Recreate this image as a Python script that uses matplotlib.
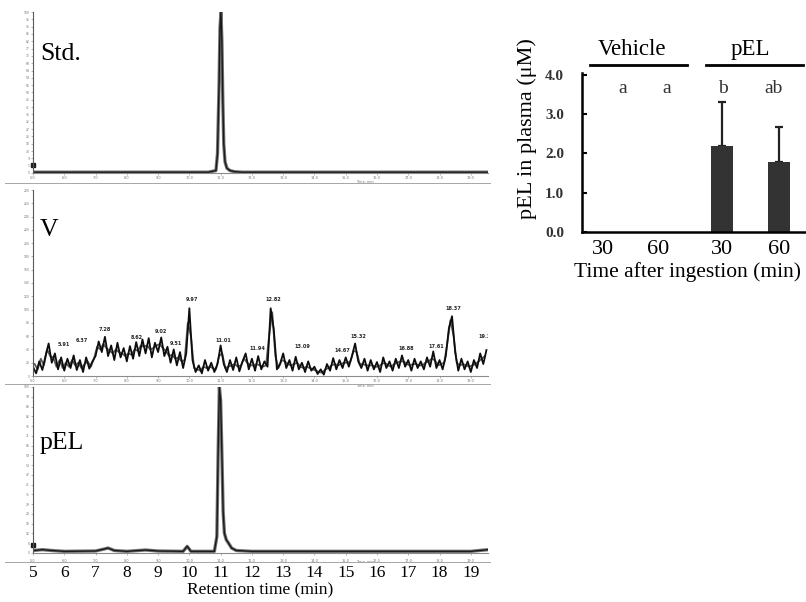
import numpy as np
import matplotlib.pyplot as plt
from matplotlib.lines import Line2D

plt.rcParams['font.family'] = 'Liberation Serif'

# --- chromatograms (retention time in min, relative signal) ---
std_time = [5.0, 10.6, 10.85, 10.9, 10.95, 10.98, 11.01, 11.04, 11.07, 11.1,
            11.14, 11.2, 11.3, 11.45, 11.7, 19.55]
std_signal = [0.5, 0.5, 1.5, 12, 55, 90, 100, 82, 45, 18,
              7, 3, 1.5, 0.8, 0.5, 0.5]

# vehicle plasma: noisy trace, read every 0.1 min, plus the second (grey) trace
veh_time = np.round(np.arange(5.0, 19.55, 0.1), 1)
veh_signal = [14, 4, 22, 9, 30, 49, 20, 34, 10, 28,
              8, 26, 12, 31, 9, 24, 6, 28, 11, 22,
              30, 52, 36, 59, 30, 46, 24, 50, 28, 42,
              22, 45, 26, 51, 30, 55, 34, 57, 28, 50,
              36, 58, 30, 44, 20, 40, 16, 36, 12, 34,
              102, 24, 6, 16, 4, 24, 8, 20, 6, 18,
              46, 18, 6, 24, 9, 28, 7, 22, 34, 10,
              26, 8, 30, 10, 22, 14, 102, 70, 10, 18,
              34, 12, 24, 8, 29, 10, 20, 6, 22, 8,
              14, 3, 10, 2, 18, 8, 27, 10, 24, 12,
              28, 14, 30, 49, 22, 12, 26, 8, 24, 10,
              21, 6, 28, 12, 22, 8, 26, 12, 31, 14,
              24, 8, 26, 12, 22, 10, 28, 14, 37, 12,
              24, 10, 30, 72, 90, 36, 8, 26, 10, 22,
              6, 24, 12, 34, 18, 39]
veh_time_b = np.round(np.arange(5.05, 19.5, 0.1), 2)
veh_signal_b = [18, 10, 26, 16, 40, 30, 28, 14, 24, 12,
                20, 14, 24, 16, 20, 12, 18, 22, 14, 26,
                44, 40, 48, 42, 38, 34, 40, 36, 34, 30,
                34, 32, 40, 38, 46, 44, 46, 40, 42, 46,
                48, 42, 38, 30, 32, 26, 28, 22, 24, 80,
                60, 12, 10, 8, 14, 12, 14, 12, 10, 30,
                34, 12, 14, 16, 18, 14, 16, 26, 20, 16,
                16, 18, 16, 14, 16, 60, 96, 30, 12, 24,
                22, 18, 16, 18, 20, 14, 12, 14, 12, 10,
                8, 6, 5, 10, 12, 16, 18, 16, 18, 20,
                20, 22, 38, 36, 18, 18, 16, 16, 16, 14,
                14, 18, 20, 16, 14, 18, 20, 22, 22, 18,
                16, 18, 18, 16, 16, 20, 22, 26, 24, 16,
                18, 20, 50, 84, 60, 20, 16, 18, 16, 14,
                16, 18, 22, 26, 30]
veh_peak_text = ['5.91', '6.37', '7.28', '8.62', '9.02', '9.51', '9.97', '11.01',
                 '11.94', '12.82', '13.09', '14.67', '15.32', '16.88', '17.61',
                 '18.37', '19.38']
veh_peak_time = [6.0, 6.55, 7.3, 8.33, 9.08, 9.58, 10.07, 11.09,
                 12.17, 12.68, 13.6, 14.9, 15.4, 16.95, 17.9, 18.45, 19.5]
veh_peak_height = [44, 49, 66, 54, 63, 45, 112, 49,
                   37, 112, 40, 34, 55, 38, 41, 98, 55]

pel_time = [5.0, 5.3, 5.6, 6.0, 7.0, 7.3, 7.4, 7.6, 8.0, 8.6, 9.0, 9.8, 9.93,
            10.05, 10.8, 10.88, 10.92, 10.96, 11.0, 11.04, 11.08, 11.12, 11.18,
            11.25, 11.35, 11.5, 12.0, 19.0, 19.55]
pel_signal = [1.5, 2, 1.5, 1, 1.2, 2.5, 3, 1.5, 1, 1.8, 1.2, 1, 4,
              1, 1, 10, 60, 100, 92, 60, 25, 12, 8,
              6, 3, 1.5, 1, 1, 2]

# --- plasma concentration ---
bar_labels = ['30', '60', '30', '60']
bar_means = [0.0, 0.0, 2.2, 1.78]
bar_err = [0.0, 0.0, 1.1, 0.88]
letters = ['a', 'a', 'b', 'ab']
groups = ['Vehicle', 'pEL']

W, H = 806, 602
fig = plt.figure(figsize=(8.06, 6.02), dpi=100)


def px_rect(x0, y0, x1, y1):
    # pixel box (top-left origin) -> figure fraction
    return [x0 / W, 1 - y1 / H, (x1 - x0) / W, (y1 - y0) / H]


def chrom(rect, ymax, nticks, name, name_y):
    ax = fig.add_axes(rect)
    ax.set_xlim(5, 19.55)
    ax.set_ylim(0, ymax)
    for s in ['top', 'right']:
        ax.spines[s].set_visible(False)
    ax.spines['left'].set_color('0.35')
    ax.spines['bottom'].set_color('0.55')
    ax.spines['left'].set_linewidth(0.8)
    ax.spines['bottom'].set_linewidth(0.8)
    ax.set_xticks(range(5, 20))
    ax.set_xticklabels(['%d.0' % v for v in range(5, 20)], fontsize=2.5,
                       color='0.45', family='DejaVu Sans')
    yt = np.linspace(0, ymax, nticks)
    ax.set_yticks(yt)
    ax.set_yticklabels(['%.0f' % v for v in yt], fontsize=2.2, color='0.45',
                       family='DejaVu Sans')
    ax.tick_params(length=1.5, width=0.4, pad=0.8, color='0.5')
    ax.text(0.015, name_y, name, transform=ax.transAxes, fontsize=18.5,
            va='center')
    ax.text(0.71, -0.045, 'Time, min', transform=ax.transAxes, fontsize=2.5,
            color='0.45', family='DejaVu Sans', va='top')
    return ax


ax1 = chrom(px_rect(33, 12, 488, 173), 100, 23, 'Std.', 0.74)
ax1.plot(std_time, std_signal, color='0.45', lw=2.4)
ax1.plot(std_time, std_signal, color='0.1', lw=1.0)
ax1.plot([5.0], [5], marker='s', ms=2.2, color='0.1', clip_on=False)

ax2 = chrom(px_rect(33, 190, 488, 376), 280, 15, 'V', 0.785)
ax2.plot(veh_time_b, veh_signal_b, color='0.35', lw=1.3)
ax2.plot(veh_time, veh_signal, color='0.05', lw=1.3)
for txt, t, h in zip(veh_peak_text, veh_peak_time, veh_peak_height):
    ax2.text(t, h, txt, fontsize=3.6, weight='bold', ha='center',
             va='bottom', family='DejaVu Sans', color='0.15', clip_on=True)

ax3 = chrom(px_rect(33, 387, 488, 553), 100, 18, 'pEL', 0.66)
ax3.plot(pel_time, pel_signal, color='0.45', lw=2.4)
ax3.plot(pel_time, pel_signal, color='0.1', lw=1.0)
ax3.plot([5.0], [5], marker='s', ms=2.2, color='0.1', clip_on=False)

# big retention time axis under the bottom panel
ax3.set_xticklabels([str(v) for v in range(5, 20)], fontsize=12.5,
                    color='black', family='Liberation Serif')
ax3.tick_params(axis='x', pad=7)
ax3.set_xlabel('Retention time (min)', fontsize=12.5, labelpad=1)
for v in range(5, 20):
    ax3.text(v, -0.035, '%d.0' % v, transform=ax3.get_xaxis_transform(),
             fontsize=2.5, color='0.45', ha='center', va='top',
             family='DejaVu Sans')

for yy in [183, 384, 562]:
    fig.add_artist(Line2D([5 / W, 490 / W], [1 - yy / H] * 2,
                          color='0.65', lw=0.7))

# --- bar chart ---
bx = fig.add_axes([582 / W, 1 - 232 / H, 1 - 582 / W, (232 - 72.8) / H])
pos = [0.42, 1.53, 2.81, 3.96]
letter_pos = [0.82, 1.71, 2.83, 3.84]
bx.bar(pos, bar_means, width=0.44, color='#333333', zorder=2)
bx.errorbar(pos[2:], bar_means[2:], yerr=[[0, 0], bar_err[2:]], fmt='none',
            ecolor='#222222', elinewidth=1.6, capsize=3, capthick=1.6,
            zorder=1)
bx.set_xlim(0, 4.5)
bx.set_ylim(0, 4.05)
for s in ['top', 'right']:
    bx.spines[s].set_visible(False)
bx.spines['left'].set_linewidth(1.8)
bx.spines['bottom'].set_linewidth(1.8)
bx.set_yticks([0, 1, 2, 3, 4])
bx.set_yticklabels(['0.0', '1.0', '2.0', '3.0', '4.0'], fontsize=11,
                   weight='bold', color='0.2')
bx.tick_params(axis='y', direction='in', length=3.5, width=1.5, pad=13)
bx.set_xticks(pos)
bx.set_xticklabels(bar_labels, fontsize=16)
bx.tick_params(axis='x', length=0, pad=6)
bx.set_xlabel('Time after ingestion (min)', fontsize=15.5, labelpad=0)
bx.xaxis.set_label_coords(0.47, -0.19)
bx.set_ylabel('pEL in plasma (\u03bcM)', fontsize=16, labelpad=2)
bx.yaxis.set_label_coords(-0.2, 0.648)
for p, l in zip(letter_pos, letters):
    bx.text(p, 3.54, l, ha='center', va='baseline', fontsize=14,
            color='0.2')
bx.plot([0.16, 2.11], [4.25, 4.25], color='black', lw=2, clip_on=False)
bx.plot([2.49, 4.44], [4.25, 4.25], color='black', lw=2, clip_on=False)
bx.text(1.0, 4.5, groups[0], ha='center', va='baseline', fontsize=16.5)
bx.text(3.39, 4.5, groups[1], ha='center', va='baseline', fontsize=16.5)

fig.savefig('out.png', dpi=100)
